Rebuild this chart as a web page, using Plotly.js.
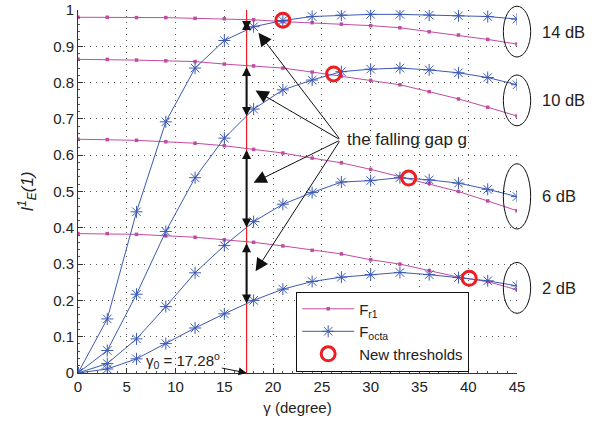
<!DOCTYPE html>
<html><head><meta charset="utf-8">
<script src="https://cdn.plot.ly/plotly-3.0.1.min.js"></script>
<style>html,body{margin:0;padding:0;background:#fff}</style>
</head><body>
<div id="chart" style="width:595px;height:424px"></div>
<script>
// ---- data ----
const gamma = [0,3,6,9,12,15,18,21,24,27,30,33,36,39,42,45];
const snrLabels = ['14 dB','10 dB','6 dB','2 dB'];
const fr1_14  = [0.980,0.980,0.979,0.979,0.977,0.976,0.973,0.968,0.965,0.961,0.957,0.951,0.940,0.931,0.919,0.906];
const fr1_10  = [0.864,0.864,0.862,0.860,0.858,0.851,0.846,0.840,0.829,0.818,0.806,0.794,0.775,0.755,0.732,0.708];
const fr1_6   = [0.644,0.643,0.641,0.637,0.633,0.626,0.616,0.606,0.592,0.579,0.561,0.541,0.522,0.500,0.474,0.447];
const fr1_2   = [0.384,0.384,0.382,0.378,0.374,0.367,0.360,0.350,0.338,0.328,0.312,0.300,0.282,0.264,0.252,0.229];
const octa_14 = [0,0.149,0.444,0.692,0.840,0.916,0.954,0.971,0.982,0.986,0.988,0.988,0.986,0.984,0.982,0.975];
const octa_10 = [0,0.062,0.217,0.390,0.538,0.647,0.727,0.780,0.807,0.830,0.837,0.840,0.835,0.827,0.814,0.794];
const octa_6  = [0,0.026,0.094,0.183,0.276,0.351,0.417,0.465,0.497,0.526,0.530,0.538,0.532,0.523,0.506,0.486];
const octa_2  = [0,0.011,0.039,0.081,0.124,0.163,0.200,0.231,0.252,0.264,0.271,0.277,0.271,0.263,0.254,0.240];
const thrGamma = [21.0, 26.2, 33.9, 40.1];
const thrValue = [0.972, 0.824, 0.537, 0.261];
const gamma0 = 17.28;
const xTicks = [0,5,10,15,20,25,30,35,40,45];
const yTicks = [0,0.1,0.2,0.3,0.4,0.5,0.6,0.7,0.8,0.9,1];
const yTickText = ['0','0.1','0.2','0.3','0.4','0.5','0.6','0.7','0.8','0.9','1'];

const fr1Sets = [fr1_14, fr1_10, fr1_6, fr1_2];
const octaSets = [octa_14, octa_10, octa_6, octa_2];

const PINK = '#c24ba2', BLUE = '#3d5ab4', RED = '#ee1d23';
const FONT = 'Liberation Sans, Arial, Helvetica, sans-serif';

function interp(xs, ys, x) {
  for (let i = 0; i < xs.length - 1; i++) {
    if (x >= xs[i] && x <= xs[i+1]) {
      const t = (x - xs[i]) / (xs[i+1] - xs[i]);
      return ys[i] + t * (ys[i+1] - ys[i]);
    }
  }
  return ys[ys.length-1];
}

const traces = [];
fr1Sets.forEach((ys, i) => {
  traces.push({x: gamma, y: ys, type: 'scatter', mode: 'lines+markers',
    name: 'F<sub>r1</sub>', legendgroup: 'fr1', showlegend: i === 0,
    line: {color: PINK, width: 1}, marker: {color: PINK, size: 3.5, symbol: 'square'}});
});
octaSets.forEach((ys, i) => {
  traces.push({x: gamma, y: ys, type: 'scatter', mode: 'lines+markers',
    name: 'F<sub>octa</sub>', legendgroup: 'octa', showlegend: i === 0,
    line: {color: BLUE, width: 1},
    marker: {color: BLUE, size: 10, symbol: 'asterisk-open', line: {color: BLUE, width: 1}}});
});
traces.push({x: thrGamma, y: thrValue, type: 'scatter', mode: 'markers', name: 'New thresholds',
  marker: {symbol: 'circle-open', size: 14, color: RED, line: {color: RED, width: 3}}});

const annotations = [];
const shapes = [];

// red vertical line at gamma0
shapes.push({type: 'line', xref: 'x', yref: 'y', x0: gamma0, x1: gamma0, y0: 0, y1: 1,
  line: {color: RED, width: 1.2}, layer: 'above'});

// gap double arrows
fr1Sets.forEach((ys, i) => {
  const top = interp(gamma, ys, gamma0);
  const bot = interp(gamma, octaSets[i], gamma0);
  annotations.push({x: gamma0, y: bot, ax: gamma0, ay: top, xref: 'x', yref: 'y', axref: 'x', ayref: 'y',
    text: '', showarrow: true, arrowhead: 2, arrowside: 'end+start', arrowsize: 0.9, arrowwidth: 2,
    arrowcolor: '#111', standoff: 0, startstandoff: 0});
});

// "the falling gap g"
const tailX = 26.9, tailY = 0.642;
annotations.push({x: 27.4, y: tailY, xref: 'x', yref: 'y', text: 'the falling gap g', showarrow: false,
  xanchor: 'left', yanchor: 'middle', font: {family: FONT, size: 17, color: '#222'}});
const headY = [0.937, 0.778, 0.524, 0.28];
const headX = [18.5, 18.2, 18.0, 18.2];
headY.forEach((hy, i) => {
  annotations.push({x: headX[i], y: hy, ax: tailX, ay: tailY, xref: 'x', yref: 'y', axref: 'x', ayref: 'y',
    text: '', showarrow: true, arrowhead: 2, arrowsize: 2.6, arrowwidth: 1, arrowcolor: '#111', standoff: 0});
});

// gamma0 label
annotations.push({x: gamma0, y: 0, ax: 10.8, ay: 0.035, xref: 'x', yref: 'y', axref: 'x', ayref: 'y',
  text: '\u03b3<sub>0</sub> = 17.28<sup>o</sup>', showarrow: true, arrowhead: 2, arrowsize: 1.6, arrowwidth: 1,
  arrowcolor: '#111', standoff: 0, font: {family: FONT, size: 15, color: '#222'}});

// ellipses + dB labels
fr1Sets.forEach((ys, i) => {
  const a = ys[ys.length-1], b = octaSets[i][octaSets[i].length-1];
  const c = (a + b) / 2 + (i === 2 ? 0.02 : 0);
  const h = i === 2 ? 0.09 : 0.07;
  shapes.push({type: 'circle', xref: 'x domain', yref: 'y domain',
    x0: 43.6/45, x1: 46.4/45, y0: c - h, y1: c + h, line: {color: '#111', width: 1}, layer: 'above'});
  annotations.push({x: 1.052, y: c, xref: 'paper', yref: 'y', text: snrLabels[i], showarrow: false,
    xanchor: 'left', yanchor: 'middle', font: {family: FONT, size: 16.5, color: '#222'}});
});

const layout = {
  width: 595, height: 424,
  margin: {l: 78, r: 78, t: 10, b: 51},
  paper_bgcolor: '#fff', plot_bgcolor: '#fff',
  font: {family: FONT, size: 15, color: '#222'},
  showlegend: true,
  legend: {x: 0.497, y: 0.004, xanchor: 'left', yanchor: 'bottom', bgcolor: '#fff',
    bordercolor: '#111', borderwidth: 1, itemwidth: 52, tracegroupgap: 0,
    font: {family: FONT, size: 15, color: '#222'}},
  xaxis: {range: [0, 45], tickvals: xTicks, ticktext: xTicks.map(String), ticks: 'inside', ticklen: 5,
    tickcolor: '#333', showline: true, linecolor: '#333', linewidth: 1, zeroline: false,
    showgrid: true, gridcolor: '#555', griddash: '1px,5px', gridwidth: 1,
    minor: {dtick: 1, ticks: 'inside', ticklen: 2, tickcolor: '#555', showgrid: false},
    title: {text: '\u03b3 (degree)', font: {family: FONT, size: 15, color: '#222'}, standoff: 8}},
  yaxis: {range: [0, 1], tickvals: yTicks, ticktext: yTickText, ticks: 'inside', ticklen: 5,
    tickcolor: '#333', showline: true, linecolor: '#333', linewidth: 1, zeroline: false,
    showgrid: true, gridcolor: '#555', griddash: '1px,5px', gridwidth: 1,
    minor: {dtick: 0.02, ticks: 'inside', ticklen: 2, tickcolor: '#555', showgrid: false},
    title: {text: '<i>I</i><sup><i>1</i></sup><sub><i>E</i></sub><i>(1)</i>', font: {family: FONT, size: 17, color: '#222'}, standoff: 15}},
  shapes: shapes,
  annotations: annotations
};

Plotly.newPlot('chart', traces, layout, {displayModeBar: false, staticPlot: true});
</script>
</body></html>
